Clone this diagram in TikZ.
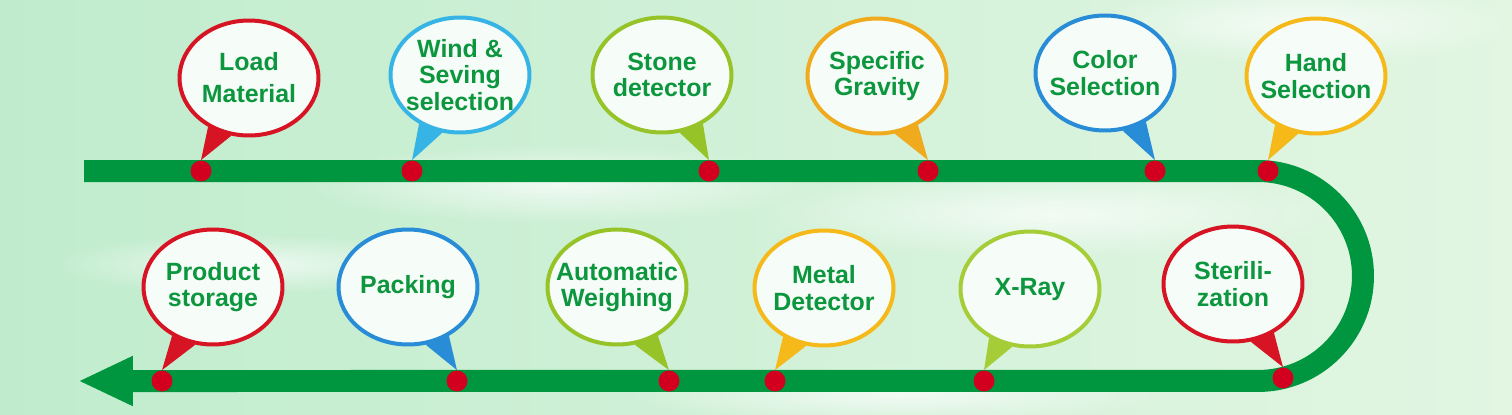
\documentclass[tikz,border=0pt]{standalone}
\usepackage{fontspec}
\setmainfont{Liberation Sans}
\usetikzlibrary{shapes.geometric,arrows.meta,fadings}

\definecolor{bargreen}{RGB}{0,150,64}
\definecolor{dotred}{RGB}{210,0,30}
\definecolor{labelgreen}{RGB}{12,150,62}
\definecolor{ringred}{RGB}{215,20,35}
\definecolor{ringsky}{RGB}{55,180,230}
\definecolor{ringlime}{RGB}{150,195,40}
\definecolor{ringlight}{RGB}{165,205,55}
\definecolor{ringorange}{RGB}{240,170,30}
\definecolor{ringyellow}{RGB}{245,185,25}
\definecolor{ringblue}{RGB}{40,140,215}
\definecolor{bgleft}{RGB}{192,236,205}
\definecolor{bgmid}{RGB}{230,248,233}
\definecolor{bgright}{RGB}{226,246,226}
\definecolor{bubblefill}{RGB}{246,252,247}

\tikzfading[name=fuzzy, inner color=transparent!0, outer color=transparent!100]

\begin{document}
\begin{tikzpicture}[
        x=0.02cm, y=0.02cm,
        bubble/.style={ellipse, draw=#1, line width=0.08cm, fill=bubblefill,
            minimum width=2.78cm, minimum height=2.3cm, inner xsep=-0.4cm, inner ysep=0pt,
            align=center, text=labelgreen, font=\bfseries\fontsize{14.2}{15.2}\selectfont},
        station/.style={circle, fill=dotred, minimum size=0.42cm, inner sep=0pt},
        bar/.style={line width=0.44cm, draw=bargreen, -{Triangle[length=1.1cm, width=0.92cm]}}
    ]
        % soft green background
        \useasboundingbox (0,0) rectangle (1512,414);
        \shade[left color=bgleft, middle color=bgmid, right color=bgright] (0,0) rectangle (1512,414);
        \foreach \cx/\cy/\rx/\ry in {
            560/230/260/40,
            1050/200/300/45,
            1300/390/220/40,
            900/20/280/30,
            250/150/200/30
        } {
            \fill[white, opacity=0.7, path fading=fuzzy] (\cx,\cy) ellipse [x radius=\rx*0.02cm, y radius=\ry*0.02cm];
        }

        % the line, turning back at the right
        \coordinate (start) at (84,243);
        \coordinate (turn) at (1258,243);
        \coordinate (end) at (78,33);
        \draw[bar] (start) -- (turn) arc[start angle=90, end angle=-90, radius=2.1cm] -- (end);

        % steps: bubble, station on the line, tail between them
        \foreach \name/\bx/\by/\col/\txt/\sx/\sy/\aa/\ab in {
            load/249/336/ringred/{Load\\[3pt]Material}/201/243/230/253,
            wind/460/339/ringsky/{Wind \&\\Seving\\selection}/412/243/230/253,
            stone/662/339/ringlime/{Stone\\detector}/709/243/287/310,
            gravity/877/338/ringorange/{Specific\\Gravity}/928/243/287/310,
            color/1105/341/ringblue/{Color\\Selection}/1155/243/287/310,
            hand/1316/338/ringyellow/{Hand\\Selection}/1268/243/230/253,
            storage/213/127/ringred/{Product\\storage}/162/33/230/253,
            packing/408/127/ringblue/{Packing}/457/33/287/310,
            weighing/617/127/ringlime/{Automatic\\Weighing}/669/33/287/310,
            metal/824/126/ringyellow/{Metal\\Detector}/775/33/230/253,
            xray/1030/125/ringlight/{X-Ray}/984/33/230/253,
            steril/1233/130/ringred/{Sterili-\\zation}/1283/36/287/310
        } {
            \node[station] (s-\name) at (\sx,\sy) {};
            \node[bubble=\col] (b-\name) at (\bx,\by) {\txt};
            \fill[\col] (b-\name.\aa) -- (s-\name.north) -- (b-\name.\ab) -- cycle;
        }
    \end{tikzpicture}
\end{document}
